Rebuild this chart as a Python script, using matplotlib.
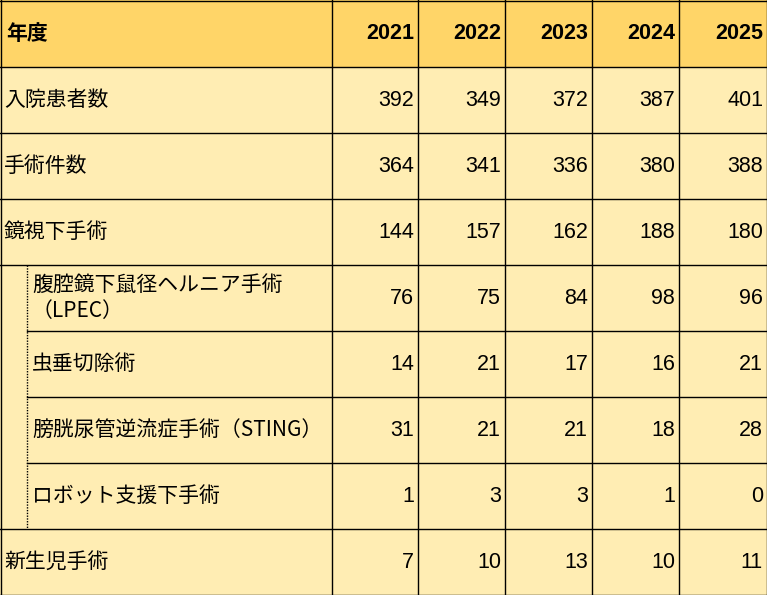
import matplotlib.pyplot as plt
from matplotlib.patches import Rectangle

plt.rcParams["font.family"] = ["Noto Sans CJK JP", "DejaVu Sans"]

years = ["2021", "2022", "2023", "2024", "2025"]
row_labels = [
    "入院患者数",
    "手術件数",
    "鏡視下手術",
    "腹腔鏡下鼠径ヘルニア手術\n（LPEC）",
    "虫垂切除術",
    "膀胱尿管逆流症手術（STING）",
    "ロボット支援下手術",
    "新生児手術",
]
sub_rows = [False, False, False, True, True, True, True, False]
values = [
    [392, 349, 372, 387, 401],
    [364, 341, 336, 380, 388],
    [144, 157, 162, 188, 180],
    [76, 75, 84, 98, 96],
    [14, 21, 17, 16, 21],
    [31, 21, 21, 18, 28],
    [1, 3, 3, 1, 0],
    [7, 10, 13, 10, 11],
]

W, H = 767, 595
col_x = [0, 332, 418, 505, 592, 679, 767]
header_h = 67
row_h = (H - header_h) / len(row_labels)
indent = 27
header_color = "#FFD568"
body_color = "#FFEDB3"
num_font = ["Liberation Sans", "DejaVu Sans"]

fig = plt.figure(figsize=(W / 100, H / 100), dpi=100)
ax = fig.add_axes([0, 0, 1, 1])
ax.set_xlim(0, W)
ax.set_ylim(H, 0)
ax.axis("off")

ax.add_patch(Rectangle((0, 0), W, header_h, color=header_color, lw=0))
ax.add_patch(Rectangle((0, header_h), W, H - header_h, color=body_color, lw=0))

lw = 1.0
# header text
ax.text(6, header_h / 2, "年度", fontsize=15, fontweight="bold", va="center")
for i, y in enumerate(years):
    ax.text(col_x[i + 2] - 4, header_h / 2, y, fontsize=15.5, fontweight="bold",
            va="center", ha="right", family=num_font)

for r, (label, sub, vals) in enumerate(zip(row_labels, sub_rows, values)):
    top = header_h + r * row_h
    mid = top + row_h / 2
    x0 = indent + 5 if sub else 4
    ax.text(x0, mid, label, fontsize=15, va="center", linespacing=1.25)
    for i, v in enumerate(vals):
        ax.text(col_x[i + 2] - 4, mid, str(v), fontsize=15.5, va="center",
                ha="right", family=num_font)
    # top border of row
    start = indent if sub and sub_rows[r - 1] else 0
    ax.plot([start, W], [top, top], color="black", lw=lw)

# outer border and header top
ax.plot([0, W], [0.5, 0.5], color="black", lw=lw)
ax.plot([0, W], [H - 0.5, H - 0.5], color="black", lw=lw)
for x in col_x:
    xx = min(max(x, 0.5), W - 0.5)
    ax.plot([xx, xx], [0, H], color="black", lw=lw)

# dotted indent separator
sub_idx = [i for i, s in enumerate(sub_rows) if s]
y_top = header_h + sub_idx[0] * row_h
y_bot = header_h + (sub_idx[-1] + 1) * row_h
ax.plot([indent, indent], [y_top, y_bot], color="black", lw=1, ls=(0, (1, 1)))

fig.savefig("out.png", dpi=100)
